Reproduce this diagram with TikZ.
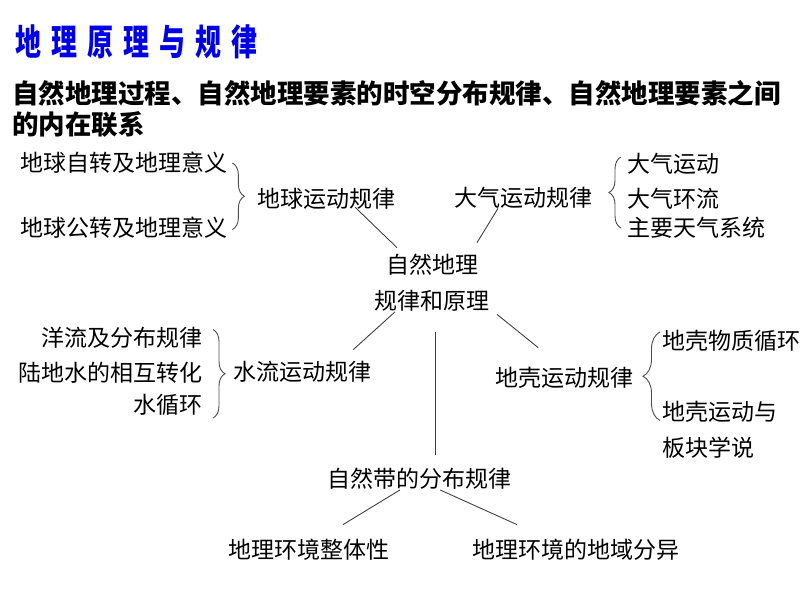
\documentclass[tikz,border=0pt]{standalone}
\usepackage{fontspec}
\setmainfont{Noto Sans CJK SC}
\newfontfamily\titlefont{Noto Sans CJK SC}[FakeStretch=0.72, LetterSpace=28]
\usetikzlibrary{decorations.pathreplacing}
\definecolor{titleblue}{RGB}{0,0,230}

\begin{document}
\begin{tikzpicture}[x=1pt, y=-1pt,
        txt/.style={inner sep=0pt, font=\fontsize{23}{23}\selectfont},
        link/.style={draw=black!75, line width=0.9pt},
        brc/.style={draw=black!70, line width=0.9pt, decorate, decoration={brace, amplitude=#1}},
        brc/.default=12]
    \useasboundingbox (0,0) rectangle (800,600);
    % 标题
    \node[anchor=west, inner sep=0pt, text=titleblue, font=\titlefont\bfseries\fontsize{36}{36}\selectfont] (title) at (15,41.5) {地理原理与规律};
    \node[anchor=west, inner sep=0pt, font=\bfseries\fontsize{26.5}{26.5}\selectfont] (sub1) at (12,93) {自然地理过程、自然地理要素的时空分布规律、自然地理要素之间};
    \node[anchor=west, inner sep=0pt, font=\bfseries\fontsize{26.5}{26.5}\selectfont] (sub2) at (12,124.5) {的内在联系};
    % 中心
    \node[txt, align=center, font=\fontsize{23}{36}\selectfont] (core) at (432,283) {自然地理\\规律和原理};
    % 地球运动
    \node[txt, anchor=west] (rot) at (20,163) {地球自转及地理意义};
    \node[txt, anchor=west] (rev) at (20,227.5) {地球公转及地理意义};
    \node[txt, anchor=west] (earth) at (257,199) {地球运动规律};
    \draw[brc] ([xshift=5pt]rot.east) -- ([xshift=5pt,yshift=-2pt]rev.east);
    % 大气运动
    \node[txt] (atmos) at (523.5,197.5) {大气运动规律};
    \node[txt, anchor=west] (move) at (627,164) {大气运动};
    \node[txt, anchor=west] (circ) at (627,199) {大气环流};
    \node[txt, anchor=west] (sys) at (627,228) {主要天气系统};
    \draw[brc] ([xshift=-6pt]sys.west) -- ([xshift=-6pt,yshift=7pt]move.west);
    % 水流运动
    \node[txt, anchor=east] (cur) at (203,337.5) {洋流及分布规律};
    \node[txt, anchor=east] (land) at (203,372.5) {陆地水的相互转化};
    \node[txt, anchor=east] (cyc) at (203,405) {水循环};
    \node[txt, anchor=west] (water) at (233,372) {水流运动规律};
    \draw[brc] ([xshift=10pt,yshift=8pt]cur.east) -- ([xshift=10pt,yshift=-13pt]cyc.east);
    % 地壳运动
    \node[txt, anchor=west] (crust) at (495,377.5) {地壳运动规律};
    \node[txt, anchor=west] (mat) at (662,341) {地壳物质循环};
    \node[txt, anchor=west] (tect) at (662,411.5) {地壳运动与};
    \node[txt, anchor=west] (plate) at (662,448) {板块学说};
    \draw[brc=17] ([xshift=-2pt,yshift=-9pt]tect.west) -- ([xshift=-2pt,yshift=9pt]mat.west);
    % 自然带
    \node[txt] (zone) at (419.5,479) {自然带的分布规律};
    \node[txt] (whole) at (308.5,550) {地理环境整体性};
    \node[txt] (diff) at (576,550) {地理环境的地域分异};
    % 连线
    \draw[link] ([xshift=29pt,yshift=2.5pt]earth.south) -- ([xshift=-35pt,yshift=6.5pt]core.north);
    \draw[link] ([xshift=-25.5pt]atmos.south) -- ([xshift=45pt,yshift=11.5pt]core.north);
    \draw[link] ([xshift=-37pt]core.south) -- ([xshift=51pt,yshift=11.5pt]water.north);
    \draw[link] ([xshift=65pt,yshift=-2.5pt]core.south) -- ([xshift=-26pt,yshift=19pt]crust.north);
    \draw[link] ([xshift=3pt,yshift=-20.5pt]core.south) -- ([xshift=15.5pt,yshift=13.5pt]zone.north);
    \draw[link] ([xshift=-19.5pt]zone.south) -- ([xshift=34.5pt,yshift=14.5pt]whole.north);
    \draw[link] ([xshift=20.5pt]zone.south) -- ([xshift=-59pt,yshift=14.5pt]diff.north);
\end{tikzpicture}
\end{document}
